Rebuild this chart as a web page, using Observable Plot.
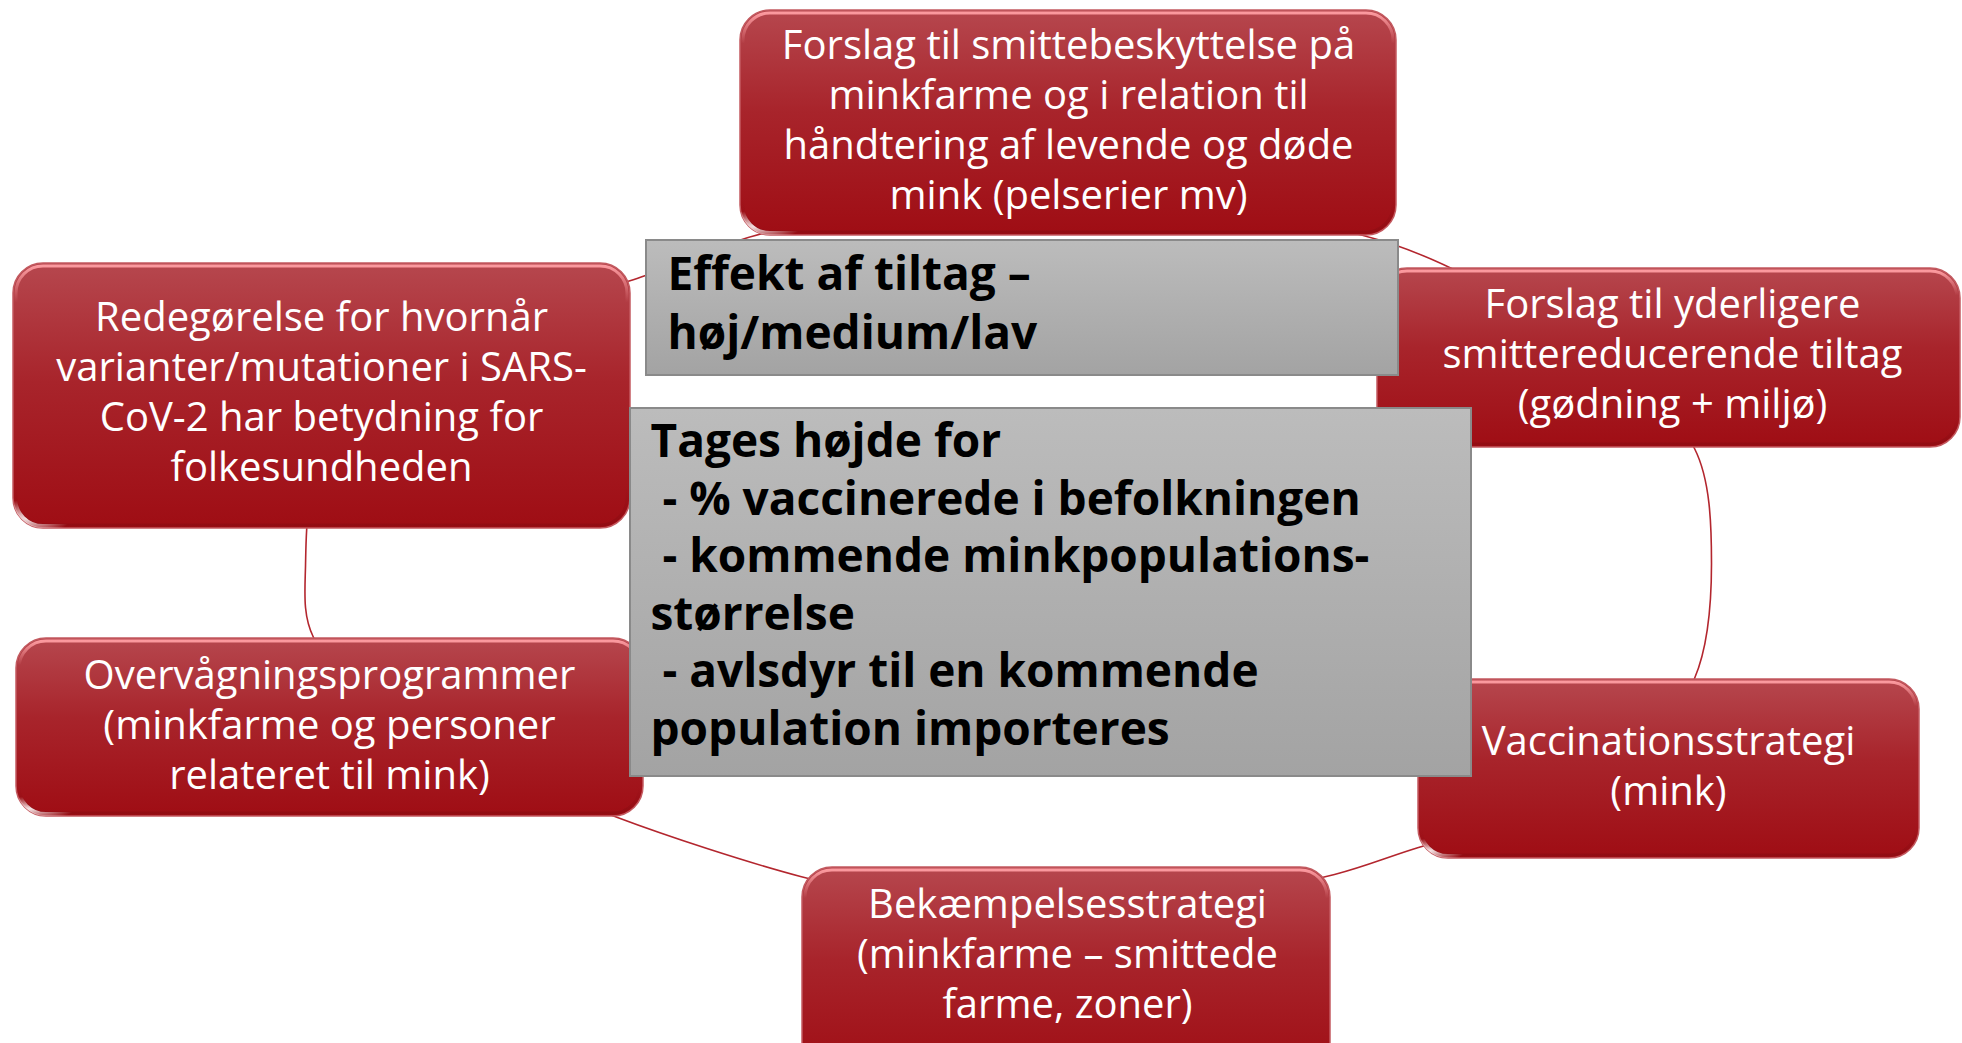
<!DOCTYPE html>
<html><head><meta charset="utf-8">
<script src="https://cdn.jsdelivr.net/npm/d3@7"></script>
<script src="https://cdn.jsdelivr.net/npm/@observablehq/plot@0.6"></script>
<style>
html,body{margin:0;padding:0;background:#fff;overflow:hidden}
svg text, svg tspan{white-space:pre}
</style>
</head><body><div id="chart"></div>
<script>
const W = 1962, H = 1043;

// Red topic boxes (clockwise from top)
const topicLabels = [
  "Forslag til smittebeskyttelse på\nminkfarme og i relation til\nhåndtering af levende og døde\nmink (pelserier mv)",
  "Forslag til yderligere\nsmittereducerende tiltag\n(gødning + miljø)",
  "Vaccinationsstrategi\n(mink)",
  "Bekæmpelsesstrategi\n(minkfarme – smittede\nfarme, zoner)",
  "Overvågningsprogrammer\n(minkfarme og personer\nrelateret til mink)",
  "Redegørelse for hvornår\nvarianter/mutationer i SARS-\nCoV-2 har betydning for\nfolkesundheden"
];
const topicX1 = [740, 1377, 1418, 802, 16, 13];
const topicX2 = [1396, 1960, 1919, 1330, 643, 630];
const topicY1 = [10, 268, 679, 867, 638, 263];
const topicY2 = [235, 447, 858, 1075, 816, 528];
const topicTextX = [1068, 1672, 1668, 1067, 329, 321];
const topicTextY = [117, 351, 763, 951, 722, 389];

// Grey note boxes in the middle
const noteLabels = [
  "Effekt af tiltag –\nhøj/medium/lav",
  "Tages højde for\n - % vaccinerede i befolkningen\n - kommende minkpopulations-\nstørrelse\n - avlsdyr til en kommende\npopulation importeres"
];
const noteX1 = [646, 630];
const noteX2 = [1398, 1471];
const noteY1 = [240, 408];
const noteY2 = [375, 776];
const noteTextX = [667, 650];
const noteTextY = [248, 416];

// Connecting ring (clockwise from the left)
const ringX = [305, 322, 420, 530, 645, 762, 900, 1070, 1250, 1393, 1520, 1625, 1694, 1711, 1694, 1630, 1530, 1418, 1334, 1200, 1060, 900, 800, 617, 520, 390, 313];
const ringY = [566, 460, 372, 315, 275, 233, 212, 205, 215, 244, 305, 380, 448, 563, 678, 760, 815, 847, 874, 900, 910, 897, 876, 817, 775, 712, 637];

const ti = topicLabels.map((_, i) => i);
const ri = ringX.map((_, i) => i);

const svg = Plot.plot({
  width: W, height: H,
  margin: 0,
  style: {background: "white", overflow: "hidden"},
  x: {domain: [0, W], axis: null},
  y: {domain: [0, H], reverse: true, axis: null},
  marks: [
    Plot.line(ri, {x: i => ringX[i], y: i => ringY[i], curve: "catmull-rom-closed", stroke: "#b3262e", strokeWidth: 1.6}),
    Plot.rect(ti, {x1: i => topicX1[i], x2: i => topicX2[i], y1: i => topicY1[i], y2: i => topicY2[i], rx: 30, ry: 30, fill: "url(#redGrad)", stroke: "#c35a60", strokeWidth: 1.5}),
    Plot.rect(ti, {x1: i => topicX1[i], x2: i => topicX2[i], y1: i => topicY1[i], y2: i => topicY2[i], inset: 3, rx: 27, ry: 27, fill: "none", stroke: "url(#edgeGrad)", strokeWidth: 3}),
    Plot.rect(ti, {x1: i => topicX1[i], x2: i => topicX2[i], y1: i => topicY1[i], y2: i => topicY2[i], inset: 2, rx: 28, ry: 28, fill: "none", stroke: "url(#glossGrad)", strokeWidth: 4}),
    Plot.text(ti, {x: i => topicTextX[i], y: i => topicTextY[i], text: i => topicLabels[i], fill: "white", fontSize: 40, lineHeight: 1.25, fontFamily: "Open Sans", textAnchor: "middle", lineAnchor: "middle"}),
    Plot.rect([0, 1], {x1: i => noteX1[i], x2: i => noteX2[i], y1: i => noteY1[i], y2: i => noteY2[i], fill: "url(#greyGrad)", stroke: "#8a8a8a", strokeWidth: 2}),
    Plot.text([0], {x: () => noteTextX[0], y: () => noteTextY[0], text: () => noteLabels[0], fill: "black", fontSize: 46, fontWeight: "bold", lineHeight: 1.28, fontFamily: "Open Sans", textAnchor: "start", lineAnchor: "top"}),
    Plot.text([1], {x: () => noteTextX[1], y: () => noteTextY[1], text: () => noteLabels[1], fill: "black", fontSize: 46, fontWeight: "bold", lineHeight: 1.25, fontFamily: "Open Sans", textAnchor: "start", lineAnchor: "top"})
  ]
});

const ns = "http://www.w3.org/2000/svg";
const defs = document.createElementNS(ns, "defs");
defs.innerHTML = `
<linearGradient id="redGrad" x1="0" y1="0" x2="0" y2="1">
  <stop offset="0" stop-color="#b6474e"/>
  <stop offset="0.45" stop-color="#a8242b"/>
  <stop offset="1" stop-color="#9f0d14"/>
</linearGradient>
<linearGradient id="edgeGrad" x1="0" y1="0" x2="0" y2="1">
  <stop offset="0" stop-color="#ff9ea3" stop-opacity="0.95"/>
  <stop offset="0.14" stop-color="#ff9ea3" stop-opacity="0"/>
  <stop offset="0.85" stop-color="#7a0a10" stop-opacity="0"/>
  <stop offset="1" stop-color="#7a0a10" stop-opacity="0.35"/>
</linearGradient>
<radialGradient id="glossGrad" gradientUnits="objectBoundingBox" cx="0.02" cy="0.97" r="0.07">
  <stop offset="0" stop-color="#ffffff" stop-opacity="0.9"/>
  <stop offset="1" stop-color="#ffffff" stop-opacity="0"/>
</radialGradient>
<linearGradient id="greyGrad" x1="0" y1="0" x2="0" y2="1">
  <stop offset="0" stop-color="#bcbcbc"/>
  <stop offset="1" stop-color="#a3a3a3"/>
</linearGradient>`;
svg.insertBefore(defs, svg.firstChild);

document.getElementById("chart").appendChild(svg);
</script>
</body></html>
